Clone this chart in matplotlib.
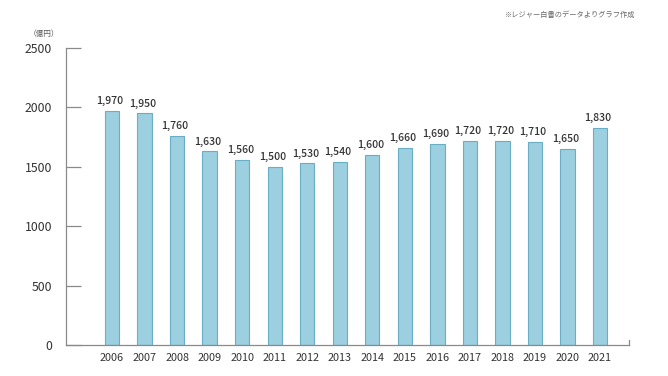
import matplotlib
matplotlib.use("Agg")
import matplotlib.pyplot as plt
import numpy as np

plt.rcParams["font.family"] = ["Noto Sans CJK JP", "DejaVu Sans"]

years = ["2006", "2007", "2008", "2009", "2010", "2011", "2012", "2013",
         "2014", "2015", "2016", "2017", "2018", "2019", "2020", "2021"]
values = [1970, 1950, 1760, 1630, 1560, 1500, 1530, 1540,
          1600, 1660, 1690, 1720, 1720, 1710, 1650, 1830]
y_ticks = [0, 500, 1000, 1500, 2000, 2500]

bar_face = "#9ccfe0"
bar_edge = "#6aaec6"
axis_col = "#8a8a8a"
text_col = "#333333"

fig = plt.figure(figsize=(6.68, 3.76), dpi=100)
ax = fig.add_axes([0.0988, 0.0824, 0.8428, 0.7899])

x = np.arange(len(years))
ax.bar(x, values, width=0.44, color=bar_face, edgecolor=bar_edge, linewidth=0.8)

for xi, v in zip(x, values):
    ax.text(xi - 0.06, v + 40, f"{v:,}", ha="center", va="bottom",
            fontsize=7.6, color=text_col, fontweight=500)

ax.set_xlim(-1.415, 15.89)
ax.set_ylim(0, 2500)
ax.set_xticks(x)
ax.set_xticklabels(years)
ax.set_yticks(y_ticks)
ax.set_yticklabels([str(t) for t in y_ticks])

ax.tick_params(axis="x", length=0, pad=6, labelsize=7.8, labelcolor=text_col)
ax.tick_params(axis="y", direction="in", length=11, width=0.9, color=axis_col,
               pad=10, labelsize=8.8, labelcolor=text_col)

for side in ["top", "right"]:
    ax.spines[side].set_visible(False)
for side in ["left", "bottom"]:
    ax.spines[side].set_color(axis_col)
    ax.spines[side].set_linewidth(0.9)

# small end tick on the right of the baseline
ax.plot([1, 1], [0, 0.018], transform=ax.transAxes, color=axis_col,
        linewidth=0.9, clip_on=False)

fig.text(44 / 668, 1 - 34 / 376, "（億円）", ha="center", va="center",
         fontsize=5.5, color="#555555")
fig.text(570 / 668, 1 - 15 / 376, "※レジャー白書のデータよりグラフ作成",
         ha="center", va="center", fontsize=5.2, color="#666666")

fig.savefig("out.png", dpi=100)
